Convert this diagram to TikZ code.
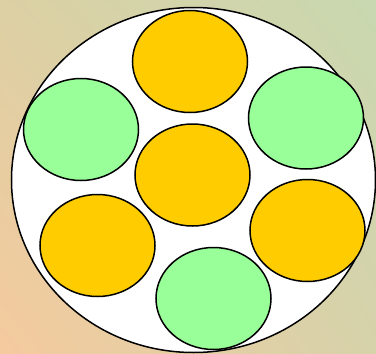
\documentclass[tikz,border=0pt]{standalone}
\usetikzlibrary{shapes.geometric,shadings}
\definecolor{dorange}{HTML}{FFCC00}
\definecolor{dgreen}{HTML}{99FF99}
\definecolor{bgtl}{HTML}{DCD0A4}
\definecolor{bgtr}{HTML}{C8D8B0}
\definecolor{bgbl}{HTML}{F5CA9E}
\definecolor{bgbr}{HTML}{D6D2AA}
\tikzset{
  disc/.style={ellipse, draw=black, line width=1.5pt, inner sep=0pt, minimum width=115pt, minimum height=102pt},
  orangedisc/.style={disc, fill=dorange},
  greendisc/.style={disc, fill=dgreen},
  outer/.style={ellipse, draw=black, line width=1.5pt, fill=white, inner sep=0pt, minimum width=364pt, minimum height=345pt}
}
\begin{document}
\begin{tikzpicture}[x=1pt,y=-1pt]
\useasboundingbox (0,0) rectangle (376,354);
\shade[upper left=bgtl, upper right=bgtr, lower left=bgbl, lower right=bgbr] (0,0) rectangle (376,354);
\node[outer] (plate) at (193.5,180) {};
\node[orangedisc] (top) at (190,61.5) {};
\node[greendisc] (left) at (81,129.5) {};
\node[greendisc] (right) at (306,118) {};
\node[orangedisc] (center) at (192.5,175) {};
\node[orangedisc] (bleft) at (97.5,245.5) {};
\node[orangedisc] (bright) at (307.5,230.5) {};
\node[greendisc] (bottom) at (213.5,298.5) {};
\end{tikzpicture}
\end{document}
